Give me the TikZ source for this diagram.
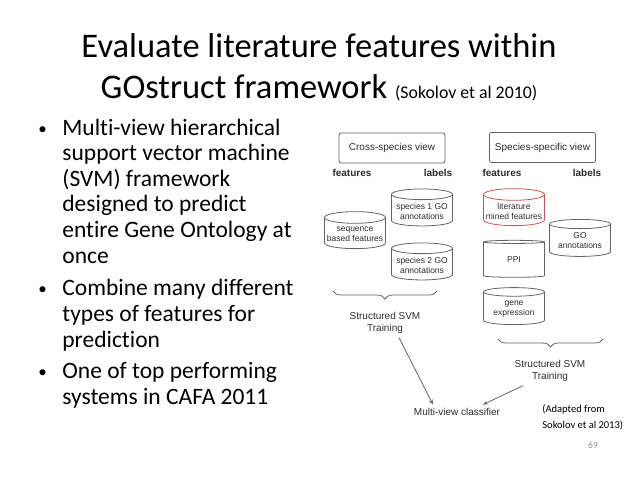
\documentclass[tikz,border=0pt]{standalone}
\usepackage{fontspec}
\setmainfont{Carlito}[Ligatures=NoCommon]
\newfontfamily\diagfont{Liberation Sans}
\usetikzlibrary{shapes.geometric,arrows.meta,decorations.pathreplacing}
\definecolor{boxline}{RGB}{100,100,100}
\definecolor{hilite}{RGB}{214,80,80}
\definecolor{diagink}{RGB}{45,45,45}
\definecolor{pagenum}{RGB}{140,140,140}

\begin{document}
\begin{tikzpicture}[x=1pt, y=-1pt, line width=0.8pt,
  viewbox/.style={draw=boxline, rounded corners=2pt, minimum width=106pt, minimum height=30pt,
    font=\diagfont\fontsize{10}{12}\selectfont, text=diagink},
  store/.style={cylinder, shape border rotate=90, draw=boxline, aspect=0.2,
    minimum width=61pt, minimum height=37pt, align=center, inner sep=1pt,
    font=\diagfont\fontsize{8.5}{10}\selectfont, text=diagink},
  colhead/.style={font=\diagfont\bfseries\fontsize{10}{12}\selectfont, text=diagink},
  diagtext/.style={align=center, font=\diagfont\fontsize{10}{12.5}\selectfont, text=diagink},
  bullettext/.style={anchor=base west, inner sep=0pt, font=\fontsize{23.5}{25.6}\selectfont},
  curly/.style={draw=boxline, decorate, decoration={brace, amplitude=8pt}},
  feed/.style={-{Stealth[length=5pt, width=4pt]}, boxline}]
  \useasboundingbox (0,0) rectangle (638,479);
  % title
  \node[anchor=base, inner sep=0pt, font=\fontsize{34.5}{41}\selectfont] (title1) at (319,57)
    {Evaluate literature features within};
  \node[anchor=base, inner sep=0pt, font=\fontsize{34.5}{41}\selectfont] (title2) at (319,98)
    {GOstruct framework {\fontsize{17.8}{20}\selectfont (Sokolov et al 2010)}};
  % bullet list
  \foreach \y/\txt in {135/Multi-view hierarchical, 160.6/support vector machine,
      186.2/(SVM) framework, 211.8/designed to predict, 237.4/entire Gene Ontology at,
      263/once, 295/Combine many different, 321/types of features for, 347/prediction,
      378/One of top performing, 404/systems in CAFA 2011}{
    \node[bullettext] at (62,\y) {\txt};
  }
  \foreach \y in {135,295,378}{
    \node[bullettext, font=\fontsize{17}{20}\selectfont] at (38,\y-1) {•};
  }
  % cross-species view
  \node[viewbox] (cross) at (392,148) {Cross-species view};
  \node[colhead] (crossfeat) at (352,173) {features};
  \node[colhead] (crosslab) at (438,173) {labels};
  \node[store] (seq) at (355,234) {sequence\\based features};
  \node[store] (sp1) at (422,211) {species 1 GO\\annotations};
  \node[store] (sp2) at (422,265) {species 2 GO\\annotations};
  \draw[curly] (437,291) -- (333,291);
  \node[diagtext] (train1) at (385,323) {Structured SVM\\Training};
  % species-specific view
  \node[viewbox] (spec) at (542.5,147.5) {Species-specific view};
  \node[colhead] (specfeat) at (502,173) {features};
  \node[colhead] (speclab) at (587,173) {labels};
  \node[store, draw=hilite] (lit) at (514,211) {literature\\mined features};
  \node[store] (ppi) at (514,260) {PPI};
  \node[store] (gene) at (514,309) {gene\\expression};
  \node[store] (goann) at (580,241) {GO\\annotations};
  \draw[curly] (603,339) -- (498,339);
  \node[diagtext] (train2) at (550,371) {Structured SVM\\Training};
  % combined classifier
  \node[diagtext] (multi) at (457,412) {Multi-view classifier};
  \draw[feed] ([xshift=14pt]train1.south) -- ([xshift=-24pt]multi.north);
  \draw[feed] ([xshift=-27pt]train2.south) -- ([xshift=26pt]multi.north);
  % source and page number
  \node[anchor=base west, inner sep=0pt, align=left, font=\fontsize{10.5}{16.5}\selectfont] (src) at (542,428.5)
    {(Adapted from\\Sokolov et al 2013)};
  \node[text=pagenum, font=\fontsize{9.5}{11}\selectfont] (page) at (593,445) {69};
\end{tikzpicture}
\end{document}
